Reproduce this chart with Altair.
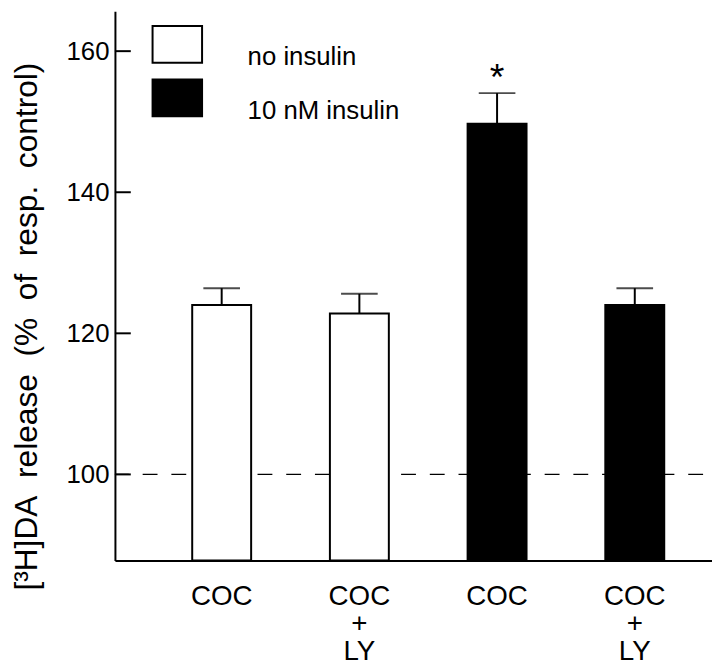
import json
import altair as alt
import pandas as pd

# ---- data ----
x_labels = ["COC", "COC|+|LY", "COC", "COC|+|LY"]
groups = ["no insulin", "no insulin", "10 nM insulin", "10 nM insulin"]
means = [124.0, 122.8, 149.7, 124.0]
upper = [126.4, 125.6, 154.05, 126.4]
sig = ["", "", "*", ""]
y_ticks = [100, 120, 140, 160]
ref_line = [100]
group_order = ["no insulin", "10 nM insulin"]
group_colors = ["white", "black"]
y_title_words = ["[³H]DA", "release", "(%", "of", "resp.", "control)"]

FONT = "Liberation Sans"
W, H = 603, 554.7
Y_DOMAIN = [87.8, 165.66]

df = pd.DataFrame({
    "pos": list(range(len(x_labels))),
    "group": groups,
    "mean": means,
    "upper": upper,
    "sig": sig,
})
ticks_df = pd.DataFrame({"v": y_ticks})
ref_df = pd.DataFrame({"v": ref_line})

label_expr = "split(" + json.dumps(x_labels) + "[datum.value], '|')"
y_title = "\u00a0\u00a0".join(y_title_words)

x_scale = alt.Scale(paddingInner=0.572, paddingOuter=0.454, align=0.618)
y_scale = alt.Scale(domain=Y_DOMAIN, nice=False, zero=False)

x_enc = alt.X(
    "pos:O",
    scale=x_scale,
    axis=alt.Axis(
        title=None,
        labelExpr=label_expr,
        labelAngle=0,
        labelFont=FONT,
        labelFontSize=28,
        labelLineHeight=28,
        labelColor="black",
        labelPadding=22,
        ticks=False,
        tickSize=0,
        domain=True,
        domainColor="black",
        domainWidth=2,
        grid=False,
    ),
)

y_axis = alt.Axis(
    title=y_title,
    titleFont=FONT,
    titleFontSize=32,
    titleFontWeight="normal",
    titleColor="black",
    titleAngle=270,
    titleAlign="center",
    titleBaseline="middle",
    titleX=-89,
    titleY=318,
    values=y_ticks,
    labelFont=FONT,
    labelFontSize=26,
    labelColor="black",
    labelPadding=6,
    ticks=False,
    tickSize=0,
    domain=True,
    domainColor="black",
    domainWidth=2,
    grid=False,
)

ref = alt.Chart(ref_df).mark_rule(
    color="black", strokeWidth=1.3, strokeDash=[15, 14], strokeDashOffset=1
).encode(
    y=alt.Y("v:Q", scale=y_scale, axis=y_axis),
    x=alt.value(0),
    x2=alt.value(W),
)

bars = alt.Chart(df).mark_bar(stroke="black", strokeWidth=2).encode(
    x=x_enc,
    y=alt.Y("mean:Q", scale=y_scale),
    y2=alt.datum(Y_DOMAIN[0]),
    fill=alt.Fill(
        "group:N",
        scale=alt.Scale(domain=group_order, range=group_colors),
        legend=alt.Legend(
            title=None,
            orient="none",
            legendX=37,
            legendY=7.5,
            padding=0,
            symbolType="M-1,-0.74H1V0.74H-1Z",
            symbolSize=2500,
            symbolStrokeColor="black",
            symbolStrokeWidth=2,
            labelFont=FONT,
            labelFontSize=26,
            labelColor="black",
            labelOffset=45,
            labelBaseline="top",
            rowPadding=2,
        ),
    ),
)

err = alt.Chart(df).mark_rule(color="black", strokeWidth=2).encode(
    x=alt.X("pos:O", scale=x_scale),
    y=alt.Y("mean:Q", scale=y_scale),
    y2="upper:Q",
)

caps = alt.Chart(df).mark_tick(color="black", thickness=2, size=37).encode(
    x=alt.X("pos:O", scale=x_scale),
    y=alt.Y("upper:Q", scale=y_scale),
)

stars = alt.Chart(df).mark_text(
    font=FONT, fontSize=38, color="black", baseline="alphabetic", dy=-3
).encode(
    x=alt.X("pos:O", scale=x_scale),
    y=alt.Y("upper:Q", scale=y_scale),
    text="sig:N",
)

inward_ticks = alt.Chart(ticks_df).mark_rule(color="black", strokeWidth=2).encode(
    y=alt.Y("v:Q", scale=y_scale),
    x=alt.value(0),
    x2=alt.value(16),
)

chart = alt.layer(ref, bars, err, caps, stars, inward_ticks).properties(
    width=W,
    height=H,
    autosize=alt.AutoSizeParams(type="none"),
    padding={"left": 108, "top": 0, "right": 0, "bottom": 103},
    background="white",
).configure_view(stroke=None)

chart.save("out.html", embed_options={"renderer": "svg", "actions": False})
